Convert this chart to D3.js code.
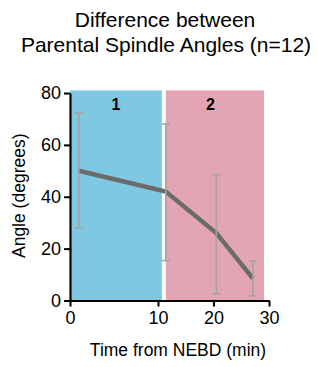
<!DOCTYPE html>
<html>
<head>
<meta charset="utf-8">
<script src="https://cdn.jsdelivr.net/npm/d3@7"></script>
<style>
  body { margin: 0; background: #fff; }
  text { font-family: "Liberation Sans", Arial, sans-serif; fill: #000; }
</style>
</head>
<body>
<div id="chart"></div>
<script>
// phases (shaded bands)
const phaseLabels = ["1", "2"];
const phaseStart = [0, 11.4];
const phaseEnd = [10.7, 29.1];

// mean angle difference +/- sd
const times = [1, 11.4, 20.5, 27.1];
const means = [50, 42, 26, 8.5];
const upper = [72.4, 68, 48.5, 15.3];
const lower = [28, 15.4, 2.6, 1.8];

const xTicks = [0, 10, 20, 30];
const yTicks = [0, 20, 40, 60, 80];

const width = 318, height = 367;

const svg = d3.select("#chart").append("svg")
  .attr("width", width)
  .attr("height", height);

// x axis is stretched over the first 10 min
const x = d3.scaleLinear().domain([0, 10, 30]).range([70, 158, 269]);
const y = d3.scaleLinear().domain([0, 80]).range([300.5, 93]);

// bands
svg.selectAll("rect.phase")
  .data(phaseLabels)
  .enter()
  .append("rect")
  .attr("class", "phase")
  .attr("x", (d, i) => x(phaseStart[i]))
  .attr("width", (d, i) => x(phaseEnd[i]) - x(phaseStart[i]))
  .attr("y", y(81))
  .attr("height", y(0) - y(81))
  .attr("fill", (d, i) => i === 0 ? "#7ec8e3" : "#e3a5b3");

svg.selectAll("text.phase")
  .data(phaseLabels)
  .enter()
  .append("text")
  .attr("class", "phase")
  .attr("x", (d, i) => i === 0 ? (x(phaseStart[i]) + x(phaseEnd[i])) / 2 : x(20) - 3)
  .attr("y", 110)
  .attr("text-anchor", "middle")
  .style("font-size", "16px")
  .style("font-weight", "bold")
  .text(d => d);

// mean line
const line = d3.line()
  .x((d, i) => x(times[i]))
  .y(d => y(d));
svg.append("path")
  .datum(means)
  .attr("d", line)
  .attr("fill", "none")
  .attr("stroke", "#6b6b6b")
  .attr("stroke-width", 4.5);

// error bars
const eb = svg.selectAll("g.err")
  .data(times)
  .enter()
  .append("g")
  .attr("class", "err")
  .attr("stroke", "#a3a3a3")
  .attr("stroke-width", 1.6);
eb.append("line")
  .attr("x1", d => x(d)).attr("x2", d => x(d))
  .attr("y1", (d, i) => y(upper[i]))
  .attr("y2", (d, i) => y(lower[i]));
eb.append("line")
  .attr("x1", d => x(d) - 4).attr("x2", d => x(d) + 4)
  .attr("y1", (d, i) => y(upper[i]))
  .attr("y2", (d, i) => y(upper[i]));
eb.append("line")
  .attr("x1", d => x(d) - 4).attr("x2", d => x(d) + 4)
  .attr("y1", (d, i) => y(lower[i]))
  .attr("y2", (d, i) => y(lower[i]));

// axes
const xAxis = svg.append("g")
  .attr("transform", `translate(0, ${y(0)})`)
  .call(d3.axisBottom(x).tickValues(xTicks).tickSize(6).tickPadding(5).tickSizeOuter(0));
const yAxis = svg.append("g")
  .attr("transform", `translate(${x(0)}, 0)`)
  .call(d3.axisLeft(y).tickValues(yTicks).tickSize(6).tickPadding(3).tickSizeOuter(0));

[xAxis, yAxis].forEach(g => {
  g.select(".domain").attr("stroke", "#000").attr("stroke-width", 2.2);
  g.selectAll(".tick line").attr("stroke", "#000").attr("stroke-width", 2);
  g.selectAll(".tick text")
    .style("font-family", "'Liberation Sans', Arial, sans-serif")
    .style("font-size", "18px")
    .attr("fill", "#000");
});

// titles
svg.append("text")
  .attr("x", 165).attr("y", 27)
  .attr("text-anchor", "middle")
  .style("font-size", "21px")
  .text("Difference between");
svg.append("text")
  .attr("x", 166).attr("y", 52)
  .attr("text-anchor", "middle")
  .style("font-size", "21px")
  .text("Parental Spindle Angles (n=12)");

svg.append("text")
  .attr("x", 178).attr("y", 356)
  .attr("text-anchor", "middle")
  .style("font-size", "17.5px")
  .text("Time from NEBD (min)");

svg.append("text")
  .attr("transform", `translate(25, ${y(40) - 1}) rotate(-90)`)
  .attr("text-anchor", "middle")
  .style("font-size", "17.5px")
  .text("Angle (degrees)");
</script>
</body>
</html>
